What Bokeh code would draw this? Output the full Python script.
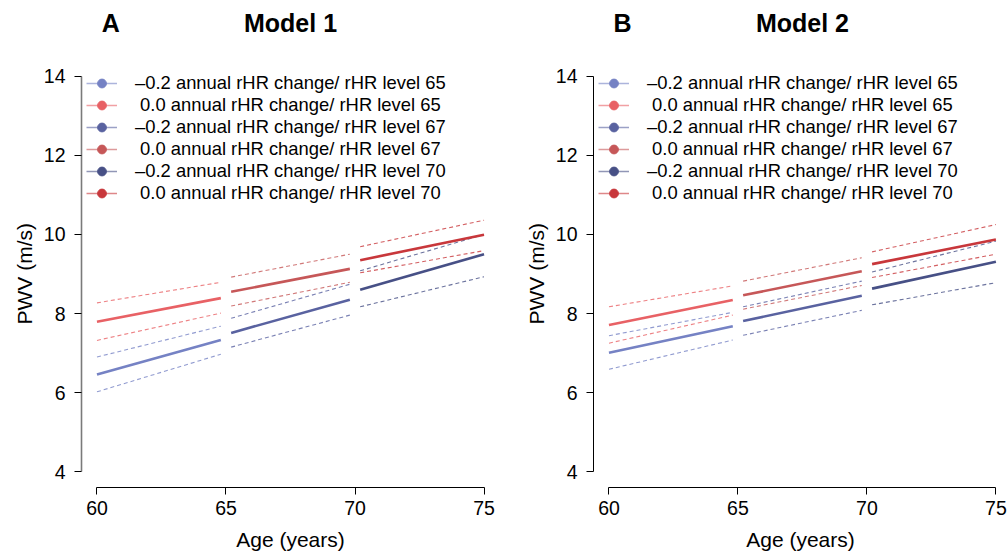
from bokeh.plotting import figure
from bokeh.models import Range1d, FixedTicker, Legend, LegendItem, Label, ColumnDataSource, Title
from bokeh.layouts import row
from bokeh.embed import file_html
from bokeh.resources import INLINE

# ---------------- data ----------------
rhr_levels = [65, 67, 70]
seg_start = [60.0, 65.2, 70.2]
seg_end = [64.8, 69.8, 75.0]
x_ticks = [60, 65, 70, 75]
y_ticks = [4, 6, 8, 10, 12, 14]

# Model 1  (start, end) for each rHR level
m1_neg_fit = [(6.46, 7.33), (7.51, 8.35), (8.60, 9.50)]
m1_neg_lo = [(6.02, 6.97), (7.15, 7.96), (8.17, 8.93)]
m1_neg_hi = [(6.90, 7.68), (7.88, 8.74), (9.08, 10.00)]
m1_zero_fit = [(7.79, 8.39), (8.55, 9.13), (9.35, 9.99)]
m1_zero_lo = [(7.32, 8.01), (8.19, 8.79), (9.03, 9.59)]
m1_zero_hi = [(8.27, 8.79), (8.92, 9.50), (9.69, 10.36)]

# Model 2
m2_neg_fit = [(7.01, 7.68), (7.81, 8.45), (8.63, 9.31)]
m2_neg_lo = [(6.59, 7.33), (7.45, 8.08), (8.22, 8.78)]
m2_neg_hi = [(7.44, 8.03), (8.17, 8.82), (9.05, 9.83)]
m2_zero_fit = [(7.71, 8.34), (8.46, 9.07), (9.25, 9.87)]
m2_zero_lo = [(7.25, 7.96), (8.11, 8.71), (8.91, 9.50)]
m2_zero_hi = [(8.17, 8.70), (8.82, 9.41), (9.56, 10.25)]

blue_cols = ["#7582C4", "#5962A0", "#475086"]
red_cols = ["#E86165", "#C65758", "#C8373B"]

FONT = "Liberation Sans"
NAN = float("nan")


def seg_source(series_list, colors):
    d = dict(x0=[], x1=[], y0=[], y1=[], color=[])
    for series, cols in zip(series_list, colors):
        for i, (a, b) in enumerate(series):
            d["x0"].append(seg_start[i])
            d["x1"].append(seg_end[i])
            d["y0"].append(a)
            d["y1"].append(b)
            d["color"].append(cols[i])
    return ColumnDataSource(d)


def make_panel(tag, title, neg, zero, width, xend, right_border, left_border, yaxis_color):
    p = figure(width=width, height=553, x_range=Range1d(59.4, xend),
               y_range=Range1d(3.6, 15.917), output_backend="svg",
               toolbar_location=None, min_border_left=left_border,
               min_border_right=right_border, min_border_top=0,
               min_border_bottom=66)
    p.outline_line_color = None
    p.grid.visible = False
    p.background_fill_color = "white"

    neg_fit, neg_lo, neg_hi = neg
    zero_fit, zero_lo, zero_hi = zero

    # dashed confidence lines
    dsrc = seg_source([neg_lo, neg_hi, zero_lo, zero_hi],
                      [blue_cols, blue_cols, red_cols, red_cols])
    p.segment(x0="x0", y0="y0", x1="x1", y1="y1", color="color",
              line_width=1.1, line_dash="4 3", line_alpha=0.8, source=dsrc)
    # solid fitted lines
    ssrc = seg_source([neg_fit, zero_fit], [blue_cols, red_cols])
    p.segment(x0="x0", y0="y0", x1="x1", y1="y1", color="color",
              line_width=2.6, source=ssrc)

    # legend (proxy renderers with no visible points)
    items = []
    for i, lvl in enumerate(rhr_levels):
        for lab, col in (("\u20130.2", blue_cols[i]), ("\u00a00.0", red_cols[i])):
            lr = p.line(x=[NAN], y=[NAN], color=col, line_width=1.5, line_alpha=0.6)
            sr = p.scatter(x=[NAN], y=[NAN], marker="circle", size=9, color=col)
            items.append(LegendItem(label=f"{lab} annual rHR change/ rHR level {lvl}",
                                    renderers=[lr, sr]))
    leg = Legend(items=items, location=(5, 283), border_line_color=None,
                 background_fill_alpha=0, padding=5, margin=0, spacing=0,
                 glyph_width=31, glyph_height=22, label_height=22,
                 label_standoff=18, label_text_font_size="18.4px",
                 label_text_font=FONT, label_text_color="black")
    p.add_layout(leg)

    # axes
    xa = p.xaxis[0]
    ya = p.yaxis[0]
    xa.ticker = FixedTicker(ticks=x_ticks)
    ya.ticker = FixedTicker(ticks=y_ticks)
    xa.bounds = (x_ticks[0], x_ticks[-1])
    ya.bounds = (y_ticks[0], y_ticks[-1])
    for ax in (xa, ya):
        ax.major_tick_out = 7
        ax.major_tick_in = 0
        ax.minor_tick_out = 0
        ax.minor_tick_in = 0
        ax.major_tick_line_color = "black"
        ax.axis_line_color = "black"
        ax.major_label_text_font = FONT
        ax.major_label_text_font_size = "19.5px"
        ax.major_label_text_color = "black"
        ax.axis_label_text_font = FONT
        ax.axis_label_text_font_size = "21px"
        ax.axis_label_text_font_style = "normal"
        ax.axis_label_text_color = "black"
    ya.axis_line_color = yaxis_color
    ya.axis_line_width = 1.6 if yaxis_color != "black" else 1
    xa.axis_label = "Age (years)"
    xa.major_label_standoff = 6
    ya.major_label_standoff = 9
    xa.axis_label_standoff = 10

    # y-axis title centred on the 4-14 span (frame extends above for headings)
    p.add_layout(Title(text="PWV (m/s)", align="left", offset=163,
                       text_font=FONT, text_font_size="21px",
                       text_font_style="normal", text_color="black",
                       standoff=10), "left")

    # panel tag and title
    p.add_layout(Label(x=60.53, y=15.34, text=tag, text_align="center",
                       text_baseline="alphabetic", text_font=FONT,
                       text_font_size="25px", text_font_style="bold",
                       text_color="black"))
    p.add_layout(Label(x=67.5, y=15.34, text=title, text_align="center",
                       text_baseline="alphabetic", text_font=FONT,
                       text_font_size="25px", text_font_style="bold",
                       text_color="black"))
    return p


pA = make_panel("A", "Model 1", (m1_neg_fit, m1_neg_lo, m1_neg_hi),
                (m1_zero_fit, m1_zero_lo, m1_zero_hi), 512, 75.6, 13, 81, "#7a7a7a")
pB = make_panel("B", "Model 2", (m2_neg_fit, m2_neg_lo, m2_neg_hi),
                (m2_zero_fit, m2_zero_lo, m2_zero_hi), 495, 75.45, 0, 81, "black")

layout = row(pA, pB, spacing=0)
open("out.html", "w").write(file_html(layout, INLINE))
